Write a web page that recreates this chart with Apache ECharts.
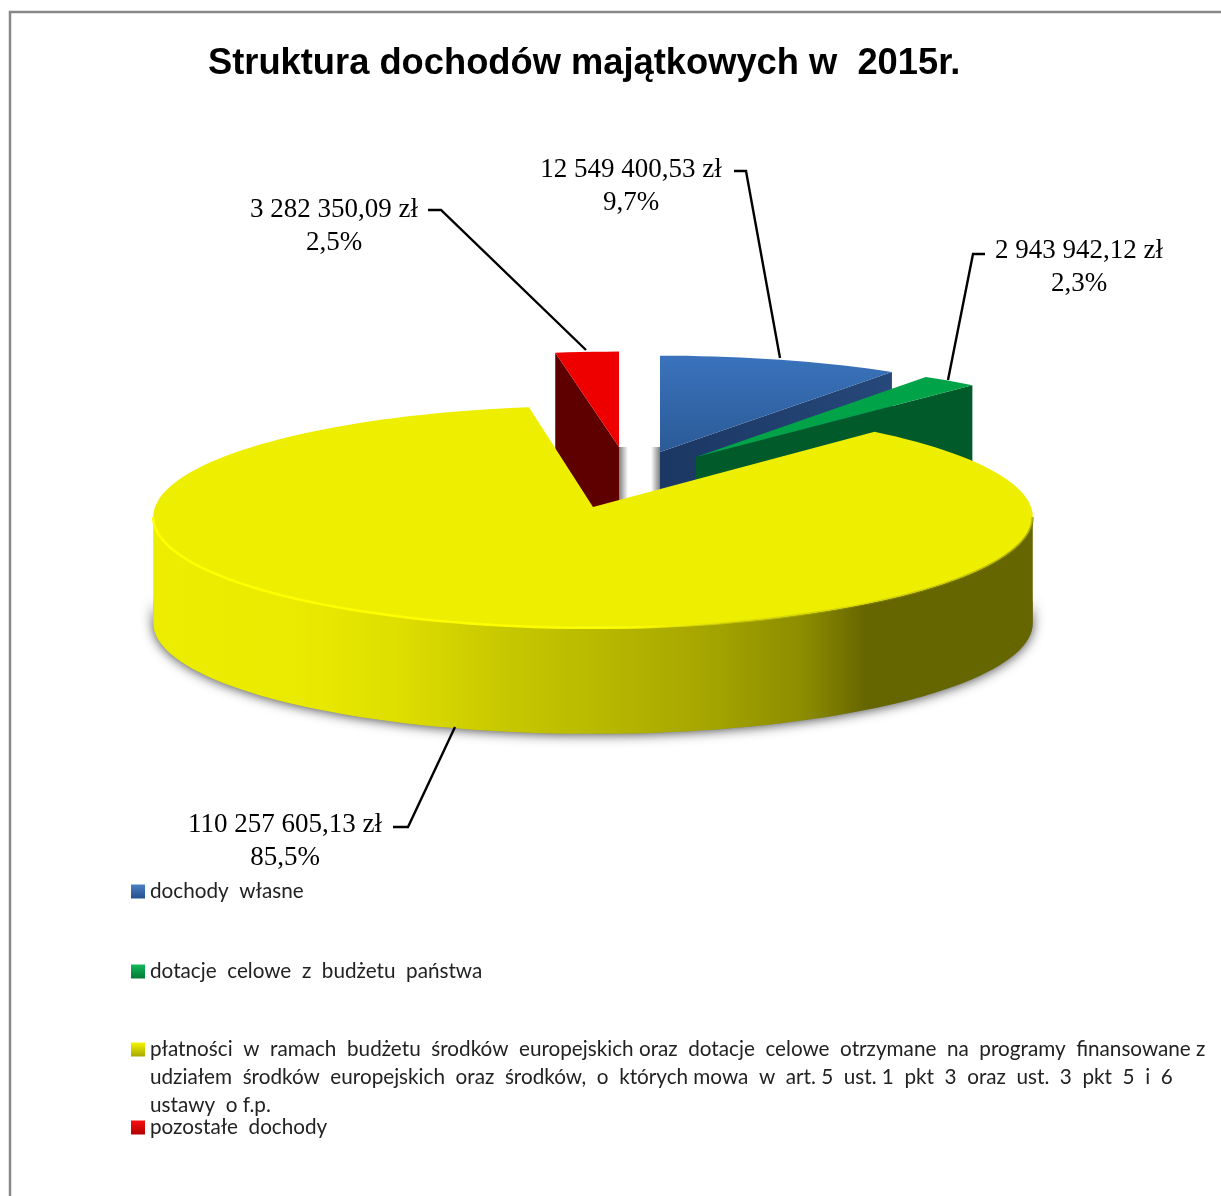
<!DOCTYPE html>
<html><head><meta charset="utf-8">
<style>html,body{margin:0;padding:0;background:#fff}#c{width:1221px;height:1196px}</style>
<script src="https://cdn.jsdelivr.net/npm/echarts@6/dist/echarts.min.js"></script>
</head><body><div id="c"></div>
<script>
const titleText = 'Struktura dochodów majątkowych w  2015r.';
const categories = [
  'dochody własne',
  'dotacje celowe z budżetu państwa',
  'płatności w ramach budżetu środków europejskich oraz dotacje celowe otrzymane na programy finansowane z udziałem środków europejskich oraz środków, o których mowa w art. 5 ust. 1 pkt 3 oraz ust. 3 pkt 5 i 6 ustawy o f.p.',
  'pozostałe dochody'
];
const amounts = [12549400.53, 2943942.12, 110257605.13, 3282350.09];
const amountLabels = ['12 549 400,53 zł', '2 943 942,12 zł', '110 257 605,13 zł', '3 282 350,09 zł'];
const percentLabels = ['9,7%', '2,3%', '85,5%', '2,5%'];
const legendFirstLines = [
  'dochody  własne',
  'dotacje  celowe  z  budżetu  państwa',
  'płatności  w  ramach  budżetu  środków  europejskich oraz  dotacje  celowe  otrzymane  na  programy  finansowane z',
  'pozostałe  dochody'
];
const legendMoreLines = [
  'udziałem  środków  europejskich  oraz  środków,  o  których mowa  w  art. 5  ust. 1  pkt  3  oraz  ust.  3  pkt  5  i  6',
  'ustawy  o f.p.'
];

const total = amounts.reduce((a, b) => a + b, 0);
const starts = amounts.map((_, i) => amounts.slice(0, i).reduce((a, b) => a + b, 0) / total * 360);
const rad = d => d * Math.PI / 180;
const K = 0.09;

// layout per slice (explosion offset, perspective radii, wall depth)
const layout = [
  {ax: 660, ay: 452, R: 434, Rv: 105, D: 100, z: 3, lx: 631, ly: 153, leader: [[734,171],[746,171],[780,358]]},
  {ax: 696, ay: 457, R: 430, Rv: 105, D: 100, z: 4, lx: 1079, ly: 234, leader: [[985,254],[973,254],[948,380]]},
  {ax: 593, ay: 507, R: 438, Rv: 110, D: 106, z: 5, lx: 285, ly: 808, leader: [[393,827],[408,827],[455,727]]},
  {ax: 619, ay: 447, R: 436, Rv: 104, D: 100, z: 2, lx: 334, ly: 193, leader: [[428,210],[441,210],[586,350]]}
];
const G = (x1, y1, x2, y2, stops) => new echarts.graphic.LinearGradient(x1, y1, x2, y2, stops.map((c, i) => ({offset: c[0], color: c[1]})));

function pt(s, deg, dz) {
  const t = rad(deg), q = 1 + K * Math.cos(t);
  return [s.ax + s.R * Math.sin(t) / q, s.ay - s.Rv * Math.cos(t) / q + (dz || 0)];
}
function rim(s, a, b, dz) {
  const out = [], n = Math.max(2, Math.ceil((b - a) / 2));
  for (let i = 0; i <= n; i++) out.push(pt(s, a + (b - a) * i / n, dz));
  return out;
}
function poly(points, style, z2) { return {type: 'polygon', shape: {points}, style, z2: z2 || 0}; }
function line(points, stroke, lineWidth, z2) {
  return {type: 'polyline', shape: {points}, style: {stroke, lineWidth, fill: 'none'}, z2: z2 || 0};
}
function labelEls(i, s) {
  return [
    line(s.leader, '#000', 2.4, 20),
    {type: 'text', z2: 20, style: {text: amountLabels[i] + '\n' + percentLabels[i], x: s.lx, y: s.ly,
      align: 'center', verticalAlign: 'top', fill: '#000', lineHeight: 33,
      font: '27px "Liberation Serif"'}}
  ];
}
function wall(s, deg, fill) {
  const a = pt(s, deg), d = s.D;
  return poly([[s.ax, s.ay], a, [a[0], a[1] + d], [s.ax, s.ay + d]], {fill});
}
function sideShadow(x, y, w, h) {
  return {type: 'rect', shape: {x: w > 0 ? x : x + w, y, width: Math.abs(w), height: h},
    style: {fill: G(w > 0 ? 0 : 1, 0, w > 0 ? 1 : 0, 0, [[0, 'rgba(0,0,0,0.5)'], [1, 'rgba(0,0,0,0)']])}};
}

const painters = [
  function blue(api) {
    const i = 0, s = layout[i], a = starts[i], b = a + api.value(0) / total * 360;
    return [
      sideShadow(s.ax, s.ay - 5, -9, 70),
      wall(s, b, G(0, 0, 1, 0, [[0, '#1b3763'], [1, '#26487a']])),
      poly([[s.ax, s.ay]].concat(rim(s, a, b)), {fill: G(0, 0, 0, 1, [[0, '#3a73bc'], [1, '#2b5a97']])})
    ].concat(labelEls(i, s));
  },
  function green(api) {
    const i = 1, s = layout[i], a = starts[i], b = a + api.value(0) / total * 360;
    return [
      wall(s, b, '#005a2a'),
      poly([[s.ax, s.ay]].concat(rim(s, a, b)), {fill: '#00a347'})
    ].concat(labelEls(i, s));
  },
  function yellow(api) {
    const i = 2, s = layout[i], a = starts[i], b = a + api.value(0) / total * 360;
    const extreme = Math.acos(-K) * 180 / Math.PI;
    const fa = Math.max(a, extreme), fb = Math.min(b, 360 - extreme);
    const top = rim(s, a, b), ftop = rim(s, fa, fb), flow = rim(s, fa, fb, s.D);
    const caster = rim(s, fa, fb, s.D - 26);
    return [
      poly(flow.concat(caster.slice().reverse()), {fill: '#888', shadowBlur: 12, shadowColor: 'rgba(0,0,0,0.7)', shadowOffsetY: 1}),
      poly(ftop.concat(flow.slice().reverse()), {fill: G(0, 0, 1, 0, [
        [0, '#eded00'], [0.17, '#eaea00'], [0.28, '#dede00'], [0.39, '#c9c900'], [0.51, '#b8b800'],
        [0.63, '#a5a500'], [0.74, '#8c8c00'], [0.81, '#666600'], [1, '#666600']])}),
      poly([[s.ax, s.ay]].concat(top), {fill: '#eeee00'}),
      line(ftop, G(0, 0, 1, 0, [[0, 'rgba(255,255,0,1)'], [0.55, 'rgba(255,255,0,0.9)'], [0.8, 'rgba(170,170,0,0.3)'], [1, 'rgba(130,130,0,0.55)']]), 2.5)
    ].concat(labelEls(i, s));
  },
  function red(api) {
    const i = 3, s = layout[i], a = starts[i], b = a + api.value(0) / total * 360;
    return [
      sideShadow(s.ax, s.ay, 9, 70),
      wall(s, a, '#5e0000'),
      poly([[s.ax, s.ay]].concat(rim(s, a, b)), {fill: '#ee0000'})
    ].concat(labelEls(i, s));
  }
];

const iconColors = [['#4a80c4', '#24508c'], ['#12b858', '#007a38'], ['#f4f400', '#a8a800'], ['#f81010', '#b00000']];
const legendTops = [881, 961, 1039, 1117];

const option = {
  animation: false,
  backgroundColor: '#fff',
  title: {text: titleText, left: 203, top: 41,
    textStyle: {fontFamily: 'Liberation Sans', fontWeight: 'bold', fontSize: 36.3, color: '#000'}},
  legend: categories.map((name, i) => ({
    left: 131, top: legendTops[i], orient: 'vertical', padding: 0, itemWidth: 14, itemHeight: 14, itemGap: 0,
    icon: 'rect', selectedMode: false,
    data: [{name, itemStyle: {color: G(0, 0, 0, 1, [[0, iconColors[i][0]], [1, iconColors[i][1]]])}}],
    formatter: () => legendFirstLines[i],
    textStyle: {fontFamily: 'Lato', fontSize: 20.7, color: '#222'}
  })),
  graphic: [
    {type: 'rect', z: -1, shape: {x: 10, y: 12, width: 1400, height: 1400}, style: {fill: '#fff', stroke: '#888', lineWidth: 2.5}},
    {type: 'text', left: 150, top: 1067, style: {text: legendMoreLines[0], fill: '#222', font: '20.7px "Lato"'}},
    {type: 'text', left: 150, top: 1095, style: {text: legendMoreLines[1], fill: '#222', font: '20.7px "Lato"'}}
  ],
  series: categories.map((name, i) => ({
    type: 'custom', name, coordinateSystem: 'none', z: layout[i].z, silent: true,
    itemStyle: {color: iconColors[i][1]},
    data: [[amounts[i]]],
    renderItem: (params, api) => ({type: 'group', children: painters[i](api)})
  }))
};
const chart = echarts.init(document.getElementById('c'), null, {renderer: 'canvas'});
chart.setOption(option);
</script></body></html>
